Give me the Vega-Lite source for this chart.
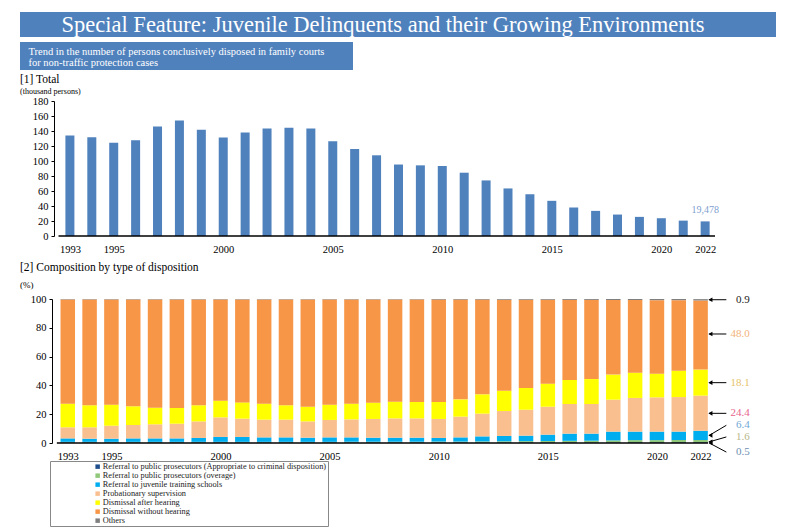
{
  "$schema": "https://vega.github.io/schema/vega-lite/v6.json",
  "padding": {"left": 20, "top": 12, "right": 10, "bottom": 2},
  "background": "white",
  "config": {
    "font": "Liberation Serif",
    "view": {"stroke": null},
    "axis": {"labelFont": "Liberation Serif", "labelColor": "#000", "domainColor": "#000", "tickColor": "#000", "grid": false, "labelFontSize": 10.5, "labelFlush": false, "labelOverlap": false, "tickCount": 30}
  },
  "spacing": 3,
  "vconcat": [
    {
      "spacing": 5,
      "vconcat": [
        {
          "width": 756,
          "height": 25,
          "view": {"fill": "#4f81bd", "stroke": null},
          "data": {"values": [{"t": "Special Feature: Juvenile Delinquents and their Growing Environments"}]},
          "mark": {"type": "text", "fontSize": 22.5, "color": "white", "dx": -15, "font": "Liberation Serif"},
          "encoding": {"text": {"field": "t", "type": "nominal"}}
        },
        {
          "width": 333,
          "height": 28,
          "view": {"fill": "#4f81bd", "stroke": null},
          "data": {"values": [{"t": "Trend in the number of persons conclusively disposed in family courts\nfor non-traffic protection cases"}]},
          "mark": {"type": "text", "fontSize": 10.5, "color": "white", "align": "left", "dx": -158, "dy": -4.5, "lineBreak": "\n", "lineHeight": 11.5, "font": "Liberation Serif"},
          "encoding": {"text": {"field": "t", "type": "nominal"}}
        }
      ]
    },
    {
      "spacing": 7,
      "resolve": {"legend": {"color": "independent"}, "scale": {"color": "independent"}},
      "vconcat": [
        {
          "width": 700,
          "height": 135,
          "title": {"text": "[1] Total", "subtitle": "(thousand persons)", "anchor": "start", "frame": "bounds", "fontSize": 11.5, "fontWeight": "normal", "subtitleFontSize": 8, "subtitlePadding": 3, "offset": 0, "color": "#000", "subtitleColor": "#000", "font": "Liberation Serif", "subtitleFont": "Liberation Serif"},
          "data": {"values": [
            {"year": 1993, "total": 134.0}, {"year": 1994, "total": 131.8}, {"year": 1995, "total": 124.2},
            {"year": 1996, "total": 127.7}, {"year": 1997, "total": 146.0}, {"year": 1998, "total": 154.1},
            {"year": 1999, "total": 141.6}, {"year": 2000, "total": 131.3}, {"year": 2001, "total": 138.0},
            {"year": 2002, "total": 143.4}, {"year": 2003, "total": 144.3}, {"year": 2004, "total": 143.4},
            {"year": 2005, "total": 126.4}, {"year": 2006, "total": 116.1}, {"year": 2007, "total": 107.6},
            {"year": 2008, "total": 95.3}, {"year": 2009, "total": 94.2}, {"year": 2010, "total": 93.3},
            {"year": 2011, "total": 84.4}, {"year": 2012, "total": 74.1}, {"year": 2013, "total": 63.4},
            {"year": 2014, "total": 55.8}, {"year": 2015, "total": 46.9}, {"year": 2016, "total": 38.0},
            {"year": 2017, "total": 33.5}, {"year": 2018, "total": 28.6}, {"year": 2019, "total": 25.5},
            {"year": 2020, "total": 23.7}, {"year": 2021, "total": 20.5}, {"year": 2022, "total": 19.478}
          ]},
          "layer": [
            {
              "mark": {"type": "bar", "width": 9, "color": "#4f81bd"},
              "encoding": {
                "x": {"field": "year", "type": "quantitative", "scale": {"domain": [1990.95, 2022.45], "nice": false, "zero": false},
                      "axis": {"values": [1993, 1995, 2000, 2005, 2010, 2015, 2020, 2022], "format": "d", "title": null, "ticks": false, "domain": false, "labelPadding": 8}},
                "y": {"field": "total", "type": "quantitative", "scale": {"domain": [0, 180], "nice": false},
                      "axis": {"values": [0, 20, 40, 60, 80, 100, 120, 140, 160, 180], "title": null, "tickSize": 3, "offset": -34, "labelPadding": 3}}
              }
            },
            {
              "data": {"values": [{"x0": 1992.48, "x1": 2022.45}]},
              "mark": {"type": "rule", "color": "#000", "strokeWidth": 1.5},
              "encoding": {
                "x": {"field": "x0", "type": "quantitative"},
                "x2": {"field": "x1"},
                "y": {"datum": 0, "type": "quantitative"}
              }
            },
            {
              "transform": [{"filter": "datum.year == 2022"}],
              "mark": {"type": "text", "dy": -11, "fontSize": 10, "color": "#7f9fcf", "font": "Liberation Serif"},
              "encoding": {
                "x": {"field": "year", "type": "quantitative"},
                "y": {"field": "total", "type": "quantitative"},
                "text": {"value": "19,478"}
              }
            }
          ]
        },
        {
          "width": 693,
          "height": 144,
          "title": {"text": "[2] Composition by type of disposition", "subtitle": "(%)", "anchor": "start", "frame": "bounds", "fontSize": 11.5, "fontWeight": "normal", "subtitleFontSize": 9, "subtitlePadding": 7, "offset": 4, "color": "#000", "subtitleColor": "#000", "font": "Liberation Serif", "subtitleFont": "Liberation Serif"},
          "layer": [
            {
              "data": {"values": [
                {"year": 1993, "a": 0.4, "b": 0.4, "c": 2.4, "d": 7.7, "e": 16.4, "f": 72.4, "g": 0.3},
                {"year": 1994, "a": 0.4, "b": 0.4, "c": 2.2, "d": 7.9, "e": 15.3, "f": 73.5, "g": 0.3},
                {"year": 1995, "a": 0.4, "b": 0.4, "c": 2.2, "d": 9.0, "e": 14.6, "f": 73.1, "g": 0.3},
                {"year": 1996, "a": 0.4, "b": 0.4, "c": 2.4, "d": 9.3, "e": 13.0, "f": 74.2, "g": 0.3},
                {"year": 1997, "a": 0.4, "b": 0.4, "c": 2.4, "d": 9.8, "e": 11.5, "f": 75.2, "g": 0.3},
                {"year": 1998, "a": 0.4, "b": 0.4, "c": 2.4, "d": 10.2, "e": 10.9, "f": 75.4, "g": 0.3},
                {"year": 1999, "a": 0.4, "b": 0.4, "c": 2.7, "d": 11.5, "e": 11.2, "f": 73.5, "g": 0.3},
                {"year": 2000, "a": 0.4, "b": 0.4, "c": 3.4, "d": 13.6, "e": 11.6, "f": 70.3, "g": 0.3},
                {"year": 2001, "a": 0.4, "b": 0.4, "c": 3.4, "d": 12.7, "e": 11.3, "f": 71.5, "g": 0.3},
                {"year": 2002, "a": 0.4, "b": 0.4, "c": 3.1, "d": 12.3, "e": 11.1, "f": 72.4, "g": 0.3},
                {"year": 2003, "a": 0.4, "b": 0.4, "c": 3.1, "d": 12.3, "e": 10.0, "f": 73.5, "g": 0.3},
                {"year": 2004, "a": 0.4, "b": 0.4, "c": 2.9, "d": 11.3, "e": 10.2, "f": 74.5, "g": 0.3},
                {"year": 2005, "a": 0.4, "b": 0.4, "c": 3.1, "d": 12.1, "e": 10.6, "f": 73.1, "g": 0.3},
                {"year": 2006, "a": 0.4, "b": 0.5, "c": 3.0, "d": 12.5, "e": 10.9, "f": 72.4, "g": 0.3},
                {"year": 2007, "a": 0.4, "b": 0.5, "c": 2.8, "d": 13.0, "e": 11.3, "f": 71.7, "g": 0.3},
                {"year": 2008, "a": 0.4, "b": 0.5, "c": 2.8, "d": 13.4, "e": 11.6, "f": 71.0, "g": 0.3},
                {"year": 2009, "a": 0.4, "b": 0.5, "c": 2.8, "d": 13.4, "e": 11.4, "f": 71.2, "g": 0.3},
                {"year": 2010, "a": 0.4, "b": 0.6, "c": 2.5, "d": 13.2, "e": 11.8, "f": 71.1, "g": 0.4},
                {"year": 2011, "a": 0.4, "b": 0.6, "c": 2.9, "d": 14.4, "e": 12.0, "f": 69.3, "g": 0.4},
                {"year": 2012, "a": 0.4, "b": 0.7, "c": 3.5, "d": 15.8, "e": 13.4, "f": 65.8, "g": 0.4},
                {"year": 2013, "a": 0.4, "b": 0.8, "c": 3.7, "d": 17.3, "e": 14.1, "f": 63.2, "g": 0.5},
                {"year": 2014, "a": 0.4, "b": 0.9, "c": 3.8, "d": 18.0, "e": 15.1, "f": 61.3, "g": 0.5},
                {"year": 2015, "a": 0.4, "b": 1.0, "c": 4.4, "d": 19.4, "e": 16.0, "f": 58.3, "g": 0.5},
                {"year": 2016, "a": 0.4, "b": 1.1, "c": 5.0, "d": 20.6, "e": 16.7, "f": 55.6, "g": 0.6},
                {"year": 2017, "a": 0.4, "b": 1.2, "c": 4.9, "d": 20.6, "e": 17.3, "f": 55.0, "g": 0.6},
                {"year": 2018, "a": 0.4, "b": 1.4, "c": 6.1, "d": 22.2, "e": 17.4, "f": 51.8, "g": 0.7},
                {"year": 2019, "a": 0.5, "b": 1.5, "c": 5.9, "d": 23.4, "e": 17.5, "f": 50.5, "g": 0.7},
                {"year": 2020, "a": 0.5, "b": 1.5, "c": 5.9, "d": 23.8, "e": 16.4, "f": 51.1, "g": 0.8},
                {"year": 2021, "a": 0.5, "b": 1.6, "c": 5.8, "d": 24.0, "e": 18.3, "f": 49.0, "g": 0.8},
                {"year": 2022, "a": 0.5, "b": 1.6, "c": 6.4, "d": 24.4, "e": 18.1, "f": 48.0, "g": 0.9}
              ]},
              "transform": [{"fold": ["a", "b", "c", "d", "e", "f", "g"], "as": ["type", "pct"]}],
              "mark": {"type": "bar", "width": 14.5},
              "encoding": {
                "x": {"field": "year", "type": "quantitative", "scale": {"domain": [1991.04, 2022.34], "nice": false, "zero": false},
                      "axis": {"values": [1993, 1995, 2000, 2005, 2010, 2015, 2020, 2022], "format": "d", "title": null, "ticks": false, "domain": false, "labelPadding": 8}},
                "y": {"field": "pct", "type": "quantitative", "stack": "zero", "scale": {"domain": [0, 100], "nice": false},
                      "axis": {"values": [0, 20, 40, 60, 80, 100], "title": null, "tickSize": 3, "offset": -32, "labelPadding": 3}},
                "order": {"field": "type", "type": "ordinal", "sort": "ascending"},
                "color": {
                  "field": "type", "type": "nominal",
                  "scale": {"domain": ["a", "b", "c", "d", "e", "f", "g"], "range": ["#1f4e8c", "#8fc87a", "#00aeef", "#fabf8f", "#ffff00", "#f79646", "#7f7f7f"]},
                  "legend": {
                    "orient": "none", "legendX": 30, "legendY": 162, "title": null,
                    "symbolType": "square", "symbolSize": 20, "symbolStrokeWidth": 0,
                    "labelFontSize": 8.3, "labelFont": "Liberation Serif", "labelColor": "#222", "rowPadding": 0,
                    "strokeColor": "#888", "padding": 1.5, "symbolOffset": 42, "labelOffset": 1, "labelLimit": 400,
                    "labelExpr": "{'a': 'Referral to public prosecutors (Appropriate to criminal disposition)', 'b': 'Referral to public prosecutors (overage)', 'c': 'Referral to juvenile training schools', 'd': 'Probationary supervision', 'e': 'Dismissal after hearing', 'f': 'Dismissal without hearing', 'g': 'Others'}[datum.label]"
                  }
                }
              }
            },
            {
              "data": {"values": [{"x0": 1992.5, "x1": 2022.34}]},
              "mark": {"type": "rule", "color": "#000", "strokeWidth": 1.5},
              "encoding": {
                "x": {"field": "x0", "type": "quantitative"},
                "x2": {"field": "x1"},
                "y": {"datum": 0, "type": "quantitative"}
              }
            },
            {
              "data": {"values": [
                {"lab": "0.9", "ly": 99.5, "ty": 99.5},
                {"lab": "48.0", "ly": 75.7, "ty": 75.7},
                {"lab": "18.1", "ly": 41.9, "ty": 41.9},
                {"lab": "24.4", "ly": 20.6, "ty": 20.6},
                {"lab": "6.4", "ly": 12.3, "ty": 5.3},
                {"lab": "1.6", "ly": 4.2, "ty": 0.8},
                {"lab": "0.5", "ly": -6.3, "ty": 0.0}
              ]},
              "layer": [
                {
                  "mark": {"type": "rule", "color": "#000", "strokeWidth": 1},
                  "encoding": {
                    "x": {"datum": 2023.18, "type": "quantitative"},
                    "x2": {"datum": 2022.4},
                    "y": {"field": "ly", "type": "quantitative"},
                    "y2": {"field": "ty"}
                  }
                },
                {
                  "mark": {"type": "point", "shape": "triangle-left", "filled": true, "color": "#000", "size": 22, "opacity": 1},
                  "encoding": {
                    "x": {"datum": 2022.45, "type": "quantitative"},
                    "y": {"field": "ty", "type": "quantitative"}
                  }
                },
                {
                  "mark": {"type": "text", "align": "right", "baseline": "middle", "fontSize": 11, "font": "Liberation Serif"},
                  "encoding": {
                    "x": {"datum": 2024.25, "type": "quantitative"},
                    "y": {"field": "ly", "type": "quantitative"},
                    "text": {"field": "lab", "type": "nominal"},
                    "fill": {"field": "lab", "type": "nominal", "legend": null,
                             "scale": {"domain": ["0.9", "48.0", "18.1", "24.4", "6.4", "1.6", "0.5"], "range": ["#222222", "#f2b37a", "#e6c36a", "#e8638a", "#6fa8d6", "#b7b78a", "#6e8fb3"]}}
                  }
                }
              ]
            }
          ]
        }
      ]
    }
  ]
}
